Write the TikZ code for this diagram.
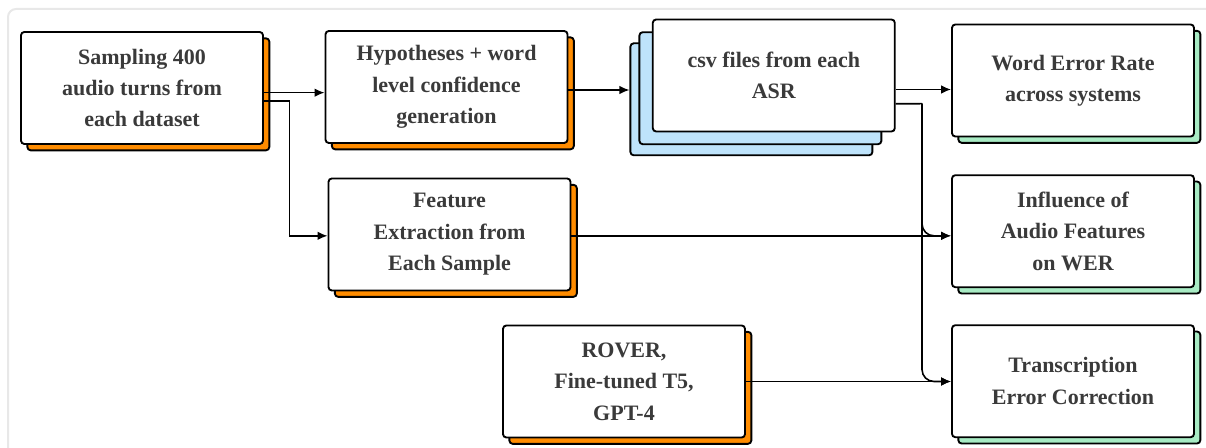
\documentclass[tikz,border=0pt]{standalone}
\usepackage{fontspec}
\setmainfont{Liberation Serif}
\usepackage{xcolor}
\usetikzlibrary{shadows, positioning, arrows.meta, calc}

\definecolor{stepOrange}{HTML}{FF8C00}
\definecolor{asrBlue}{HTML}{BEE3FB}
\definecolor{resGreen}{HTML}{A8EBC4}
\definecolor{textGray}{HTML}{3A3A3A}
\definecolor{frameGray}{HTML}{E8E8E8}

\begin{document}
\begin{tikzpicture}[
    x=0.75pt, y=-0.75pt,
    box/.style={draw, line width=1.4pt, rounded corners=2.5pt, minimum width=181.5pt, minimum height=84pt, inner sep=0pt, align=center, fill=white, text=textGray, font=\fontsize{16.5}{23.6}\selectfont\bfseries},
    stepbox/.style={box, general shadow={fill=stepOrange, draw, line width=1.4pt, shadow xshift=4.75pt, shadow yshift=-4.75pt}},
    resbox/.style={box, general shadow={fill=resGreen, draw, line width=1.4pt, shadow xshift=4.75pt, shadow yshift=-4.75pt}},
    asrbox/.style={box, fill=asrBlue},
    conn/.style={line width=1.2pt, -{Latex[length=7.5pt, width=6.5pt]}}
]
    \clip (0,0) rectangle (1206,448);
    \draw[frameGray, line width=1.5pt, rounded corners=6pt] (8,9) rectangle (1240,480);

    % Nodes
    \node[stepbox] (samp) at (142,88) {Sampling 400\\audio turns from\\each dataset};
    \node[stepbox] (hypo) at (446.5,87) {Hypotheses + word\\level confidence\\generation};
    \node[stepbox] (feat) at (449.5,234.5) {Feature\\Extraction from\\Each Sample};
    \node[stepbox] (rover) at (624,381.5) {ROVER,\\Fine-tuned T5,\\GPT-4};

    \node[asrbox] (asr3) at (751.4,99.3) {};
    \node[asrbox] (asr2) at (760.4,88.2) {};
    \node[box] (asr1) at (773.8,75.5) {csv files from each\\ASR};

    \node[resbox] (wer) at (1073,80.5) {Word Error Rate\\across systems};
    \node[resbox] (infl) at (1073,231.2) {Influence of\\Audio Features\\on WER};
    \node[resbox] (tec) at (1073,381.2) {Transcription\\Error Correction};

    \coordinate (split) at (922,103.7);

    % Connections
    \draw[conn] ([yshift=-3.5pt]samp.east) -- ([yshift=-3.5pt]samp.east -| hypo.west);
    \draw[conn] ([yshift=-9.75pt]samp.east) -- ++(25.5,0) |- ([yshift=-1pt]feat.west);
    \draw[conn] ([yshift=-2.25pt]hypo.east) -- ([yshift=-2.25pt]hypo.east -| asr3.west);
    \draw[conn] ([yshift=-10.5pt]asr1.east) -- ([yshift=-10.5pt]asr1.east -| wer.west);
    \draw[line width=1.2pt] ([yshift=-21.2pt]asr1.east) -- (split);
    \draw[conn] ([yshift=-1pt]feat.east) -- ([yshift=-1pt]feat.east -| infl.west);
    \draw[conn, rounded corners=9pt] (split) |- ([yshift=-1pt]feat.east -| infl.west);
    \draw[conn] (rover.east) -- (rover.east -| tec.west);
    \draw[conn, rounded corners=9pt] (split) |- (rover.east -| tec.west);
\end{tikzpicture}
\end{document}
